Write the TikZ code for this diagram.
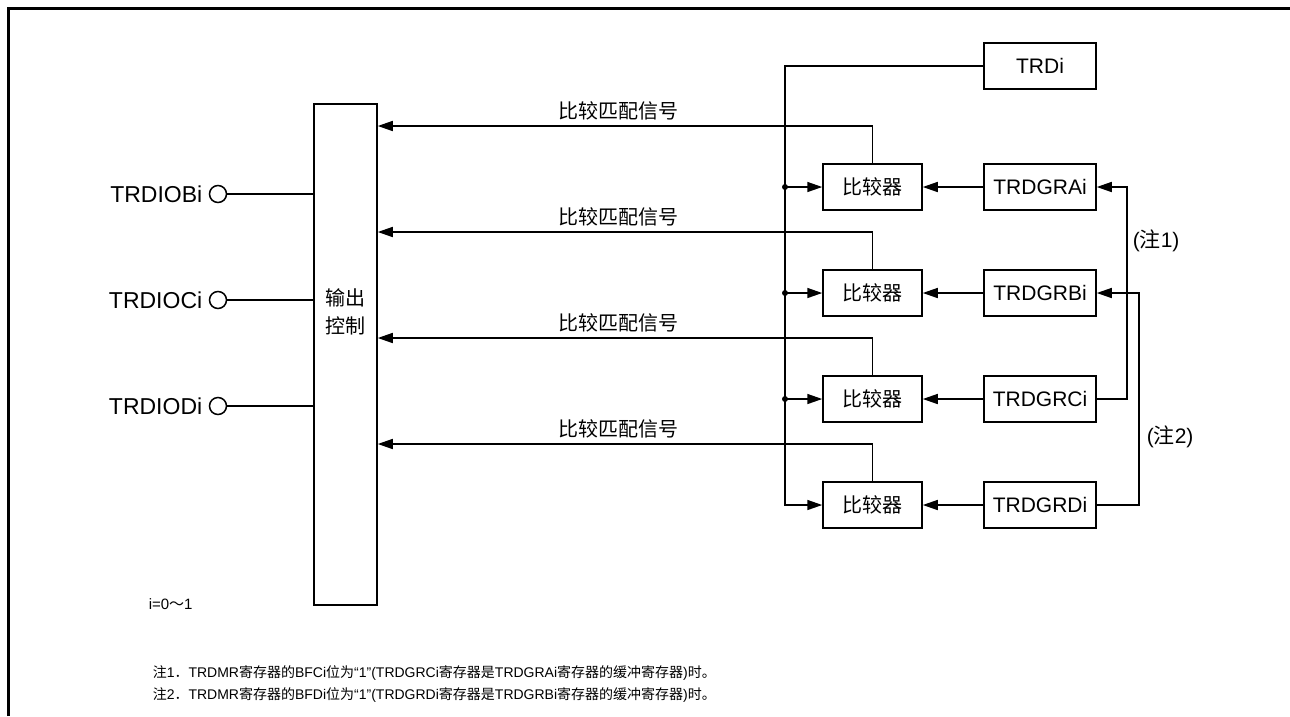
\documentclass[tikz,border=0pt]{standalone}
\usepackage{fontspec}
\setmainfont{Liberation Sans}
\newfontfamily\cjk{Noto Sans CJK SC}
\usetikzlibrary{arrows.meta,calc}
\begin{document}
\begin{tikzpicture}[x=1pt,y=-1pt, line width=1.5pt,
  arr/.style={-{Triangle[length=15pt,width=10pt]}},
  blk/.style={draw, rectangle, minimum width=99pt, minimum height=46pt, inner sep=0pt, font=\cjk\fontsize{20}{24}\selectfont},
  reg/.style={draw, rectangle, minimum width=112pt, minimum height=46pt, inner sep=0pt, font=\fontsize{21}{25}\selectfont},
  pin/.style={draw, circle, minimum size=17pt, inner sep=0pt},
  pinlbl/.style={anchor=east, inner sep=0pt, font=\fontsize{23}{27}\selectfont},
  sig/.style={inner sep=0pt, font=\cjk\fontsize{20}{24}\selectfont},
  notelbl/.style={anchor=west, inner sep=0pt, font=\fontsize{21}{25}\selectfont},
  note/.style={anchor=west, inner sep=0pt, font=\fontsize{14}{18}\selectfont},
  jdot/.style={circle, fill, inner sep=0pt, minimum size=6pt}]
\useasboundingbox (0,0) rectangle (1290,716);
% frame
\draw[line width=3pt] (8.5,716) -- (8.5,8) -- (1290,8);
% output control
\node[draw, rectangle, minimum width=63pt, minimum height=501pt, inner sep=0pt] (outctl) at (345.5,354.5) {};
\node[inner sep=0pt, align=center, font=\cjk\fontsize{20}{28}\selectfont] (outtxt) at (345.5,312) {输出\\控制};
% pins
\node[pin] (pB) at (218,194) {};
\node[pin] (pC) at (218,300) {};
\node[pin] (pD) at (218,406) {};
\node[pinlbl] (lB) at (203,194) {TRDIOBi};
\node[pinlbl] (lC) at (203,300) {TRDIOCi};
\node[pinlbl] (lD) at (203,406) {TRDIODi};
\draw (pB.east) -- (pB -| outctl.west);
\draw (pC.east) -- (pC -| outctl.west);
\draw (pD.east) -- (pD -| outctl.west);
% comparators
\node[blk] (c1) at (872.5,187) {比较器};
\node[blk] (c2) at (872.5,293) {比较器};
\node[blk] (c3) at (872.5,399) {比较器};
\node[blk] (c4) at (872.5,505) {比较器};
% registers
\node[reg] (trdi) at (1040,66) {TRDi};
\node[reg] (ga) at (1040,187) {TRDGRAi};
\node[reg] (gb) at (1040,293) {TRDGRBi};
\node[reg] (gc) at (1040,399) {TRDGRCi};
\node[reg] (gd) at (1040,505) {TRDGRDi};
% compare match signals
\coordinate (s1) at (0,126);
\coordinate (s2) at (0,232);
\coordinate (s3) at (0,338);
\coordinate (s4) at (0,444);
\draw[arr] (c1.north) |- (outctl.east |- s1);
\draw[arr] (c2.north) |- (outctl.east |- s2);
\draw[arr] (c3.north) |- (outctl.east |- s3);
\draw[arr] (c4.north) |- (outctl.east |- s4);
\node[sig] (t1) at (618.5,111) {比较匹配信号};
\node[sig] (t2) at (618.5,217) {比较匹配信号};
\node[sig] (t3) at (618.5,323) {比较匹配信号};
\node[sig] (t4) at (618.5,429) {比较匹配信号};
% TRDi bus
\coordinate (bus) at (785,66);
\draw[arr] (trdi.west) -- (bus) |- (c4.west);
\node[jdot] (j1) at (bus |- c1.west) {};
\node[jdot] (j2) at (bus |- c2.west) {};
\node[jdot] (j3) at (bus |- c3.west) {};
\draw[arr] (j1.center) -- (c1.west);
\draw[arr] (j2.center) -- (c2.west);
\draw[arr] (j3.center) -- (c3.west);
% register to comparator
\draw[arr] (ga.west) -- (c1.east);
\draw[arr] (gb.west) -- (c2.east);
\draw[arr] (gc.west) -- (c3.east);
\draw[arr] (gd.west) -- (c4.east);
% buffer paths
\coordinate (n1) at (1127,0);
\coordinate (n2) at (1139,0);
\draw[arr] (gc.east) -- (n1 |- gc.east) |- (ga.east);
\draw[arr] (gd.east) -- (n2 |- gd.east) |- (gb.east);
\node[notelbl] (nl1) at (1132,241) {({\cjk 注}1)};
\node[notelbl] (nl2) at (1146,437) {({\cjk 注}2)};
% notes
\node[note, font=\fontsize{15}{18}\selectfont] (iv) at (148,604) {i=0{\cjk ～}1};
\node[note] (note1) at (152,673) {{\cjk 注}1{\cjk ．}TRDMR{\cjk 寄存器的}BFCi{\cjk 位为}“1”(TRDGRCi{\cjk 寄存器是}TRDGRAi{\cjk 寄存器的缓冲寄存器}){\cjk 时。}};
\node[note] (note2) at (152,695) {{\cjk 注}2{\cjk ．}TRDMR{\cjk 寄存器的}BFDi{\cjk 位为}“1”(TRDGRDi{\cjk 寄存器是}TRDGRBi{\cjk 寄存器的缓冲寄存器}){\cjk 时。}};
\end{tikzpicture}
\end{document}
